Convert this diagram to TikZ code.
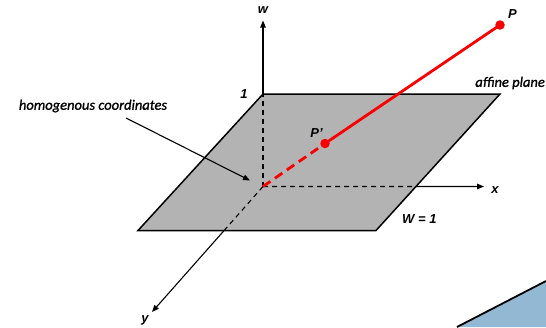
\documentclass[tikz,border=0pt]{standalone}
\usepackage{fontspec}
\setmainfont{Liberation Sans}
\newfontfamily\calib[FakeBold=1.2]{Carlito}
\usetikzlibrary{arrows.meta,calc}
\definecolor{planegray}{RGB}{179,179,179}
\definecolor{bluefill}{RGB}{146,184,211}
\definecolor{redline}{RGB}{250,0,0}
\begin{document}
\begin{tikzpicture}[x=1pt,y=-1pt,
  axis/.style={line width=1.1pt},
  tip/.style={-{Triangle[length=7pt,width=5.5pt]}},
  dsh/.style={line width=1.1pt,dash pattern=on 5pt off 4pt},
  edge/.style={line width=1.5pt,line join=miter},
  lbl/.style={font=\fontsize{13}{13}\selectfont\bfseries\itshape, inner sep=0pt},
  clbl/.style={font=\calib\fontsize{14.5}{15}\selectfont\itshape, inner sep=0pt},
  redl/.style={draw=redline, line width=2.8pt},
  dot/.style={circle, fill=redline, minimum size=9.5pt, inner sep=0pt}
]
\useasboundingbox (0,0) rectangle (546,327);
% corner decoration
\fill[bluefill] (457,327) -- (546,281) -- (546,327) -- cycle;
\draw[line width=1.8pt] (457,327) -- (546,281);
% plane
\coordinate (O) at (263,186.5);
\coordinate (A) at (263,94);
\coordinate (B) at (500,94);
\coordinate (C) at (376,230.5);
\coordinate (D) at (138,230.5);
\fill[planegray] (A) -- (B) -- (C) -- (D) -- cycle;
\draw[edge] (A) -- (B) -- (C) -- (D) -- cycle;
% axes
\coordinate (Wt) at (263,20.5);
\coordinate (Xt) at (484,186.5);
\coordinate (Yt) at (152,312);
\coordinate (Xc) at (intersection of O--Xt and C--B);
\coordinate (Yc) at (intersection of O--Yt and D--C);
\draw[dsh] (O) -- (A);
\draw[axis,tip] (A) -- (Wt);
\draw[dsh] (O) -- (Xc);
\draw[axis,tip] (Xc) -- (Xt);
\draw[dsh] (O) -- (Yc);
\draw[axis,tip] (Yc) -- (Yt);
% labels
\node[lbl] (w) at (263,10) {w};
\node[lbl] (x) at (495,190) {x};
\node[lbl] (y) at (145,320) {y};
\node[lbl] (one) at (244,94.5) {1};
\node[lbl, anchor=west] (W1) at (402,219.5) {W = 1};
\node[clbl, anchor=east] (aff) at (545,83) {affine plane};
\node[clbl] (hc) at (93,106) {homogenous coordinates};
\coordinate (hcs) at (126,118);
\coordinate (hce) at (250,180.5);
\draw[axis,tip] (hcs) -- (hce);
% red projection line
\node[dot] (Pp) at (325,143.5) {};
\node[dot] (P) at (500,25) {};
\draw[redl, dash pattern=on 9pt off 5.5pt] (O) -- (Pp.center);
\draw[redl] (Pp.center) -- (P.center);
\node[lbl] (Pl) at (512.5,14) {P};
\node[lbl] (Ppl) at (316.5,133) {P'};
\end{tikzpicture}
\end{document}
